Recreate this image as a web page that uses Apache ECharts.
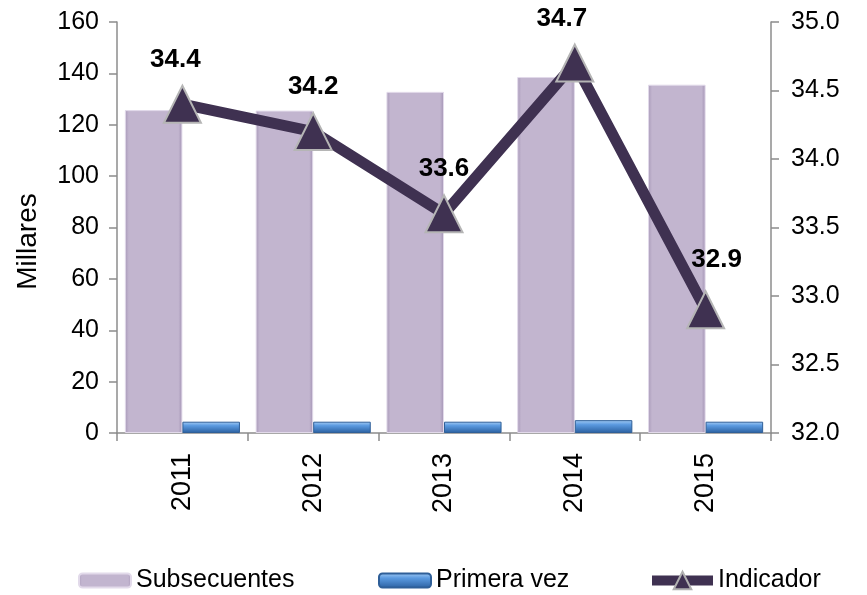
<!DOCTYPE html>
<html>
<head>
<meta charset="utf-8">
<script src="https://cdn.jsdelivr.net/npm/echarts@6/dist/echarts.min.js"></script>
<style>
  html, body { margin: 0; padding: 0; background: #fff; }
  #main { width: 867px; height: 595px; }
</style>
</head>
<body>
<div id="main"></div>
<script>
var years        = ['2011', '2012', '2013', '2014', '2015'];
var subsecuentes = [125.7, 125.5, 132.8, 138.6, 135.6];
var primeraVez   = [4.4, 4.4, 4.4, 5.0, 4.4];
var indicador    = [34.4, 34.2, 33.6, 34.7, 32.9];
// pequeños ajustes de posición de las etiquetas
var labelShift   = [[-7, 0], [0, 0], [0, 0], [-13, 0], [11, -5]];

var fontFam = '"Liberation Sans", Arial, sans-serif';
var axisGray = '#8c8c8c';

var myChart = echarts.init(document.getElementById('main'));

var lineData = indicador.map(function(v, i){
	return { value: v, label: { offset: labelShift[i] } };
});

function legendBox(name, left, w, h){
	return {
		data: [name],
		left: left,
		top: 568,
		padding: 0,
		itemWidth: w,
		itemHeight: h,
		textStyle: { fontSize: 25, color: '#000', fontFamily: fontFam }
	};
}

var legends = [
	legendBox('Subsecuentes', 78, 52, 14),
	legendBox('Primera vez', 378, 52, 14),
	legendBox('Indicador', 647, 61, 22)
];
legends[2].lineStyle = { width: 10, color: '#3f3151' };
legends[2].itemStyle = { color: '#3f3151', borderColor: '#b0b0b0', borderWidth: 2 };

var option = {
	animation: false,
	textStyle: { fontFamily: fontFam },
	grid: { left: 117, right: 96, top: 22, bottom: 162 },
	legend: legends,
	xAxis: {
		type: 'category',
		data: years,
		axisLine: { lineStyle: { color: axisGray, width: 1.5 } },
		axisTick: { show: true, length: 8, lineStyle: { color: axisGray, width: 1.5 } },
		axisLabel: { rotate: 90, fontSize: 27, color: '#000', margin: 20, fontFamily: fontFam }
	},
	yAxis: [
		{
			type: 'value',
			min: 0, max: 160, interval: 20,
			name: 'Millares',
			nameLocation: 'middle',
			nameGap: 75,
			nameTextStyle: { fontSize: 28, color: '#000', fontFamily: fontFam, padding: [0, 28, 0, 0] },
			axisLine: { show: true, lineStyle: { color: axisGray, width: 1.5 } },
			axisTick: { show: true, length: 8, lineStyle: { color: axisGray, width: 1.5 } },
			splitLine: { show: false },
			axisLabel: { fontSize: 25, color: '#000', margin: 18, fontFamily: fontFam }
		},
		{
			type: 'value',
			min: 32, max: 35, interval: 0.5,
			position: 'right',
			axisLine: { show: true, lineStyle: { color: axisGray, width: 1.5 } },
			axisTick: { show: true, length: 8, lineStyle: { color: axisGray, width: 1.5 } },
			splitLine: { show: false },
			axisLabel: {
				fontSize: 25, color: '#000', margin: 20, fontFamily: fontFam,
				formatter: function(v){ return v.toFixed(1); }
			}
		}
	],
	series: [
		{
			name: 'Subsecuentes',
			type: 'bar',
			data: subsecuentes,
			barGap: '0%',
			barCategoryGap: '12%',
			itemStyle: {
				color: new echarts.graphic.LinearGradient(0, 0, 1, 0, [
					{ offset: 0, color: '#a899b8' },
					{ offset: 0.07, color: '#c2b5cf' },
					{ offset: 0.93, color: '#c2b5cf' },
					{ offset: 1, color: '#a292b3' }
				]),
				borderColor: '#e2daea',
				borderWidth: 1
			}
		},
		{
			name: 'Primera vez',
			type: 'bar',
			data: primeraVez,
			itemStyle: {
				color: new echarts.graphic.LinearGradient(0, 0, 0, 1, [
					{ offset: 0, color: '#a6cdf5' },
					{ offset: 0.35, color: '#5b9ae0' },
					{ offset: 1, color: '#2a5f9f' }
				]),
				borderColor: '#2f5f98',
				borderWidth: 1
			}
		},
		{
			name: 'Indicador',
			type: 'line',
			yAxisIndex: 1,
			data: lineData,
			symbol: 'triangle',
			symbolSize: [37, 37],
			lineStyle: { color: '#3f3151', width: 11 },
			itemStyle: { color: '#3f3151', borderColor: '#b5b5b5', borderWidth: 2 },
			label: {
				show: true,
				position: 'top',
				distance: 12,
				fontSize: 26,
				fontWeight: 'bold',
				color: '#000',
				fontFamily: fontFam,
				formatter: function(p){ return p.value.toFixed(1); }
			},
			z: 5
		}
	]
};
myChart.setOption(option);
</script>
</body>
</html>
